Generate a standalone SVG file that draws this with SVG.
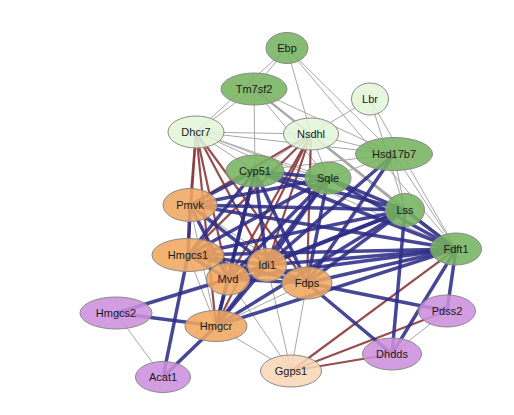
<svg xmlns="http://www.w3.org/2000/svg" width="514" height="415" viewBox="0 0 514 415">
<style>
.g{stroke:#a8a8a8;stroke-width:1;fill:none}
.r{stroke:#8a3a3a;stroke-width:2.2;fill:none;stroke-opacity:0.9}
.b{stroke:#2d2d88;stroke-width:3.5;fill:none;stroke-opacity:0.88}
ellipse{stroke:#8a8a8a;stroke-width:1;fill-opacity:0.88}
.dg{fill:#76b360}
.lg{fill:#e2f6da}
.or{fill:#f0a761}
.pu{fill:#cc8fdd}
.pe{fill:#f8d6b6}
text{font-family:"Liberation Sans",Arial,sans-serif;font-size:11px;fill:#1a1a1a;text-anchor:middle;dominant-baseline:central}
</style>
<rect width="514" height="415" fill="#ffffff"/>
<g id="edges">
<g id="gray">
<line class="g" x1="287" y1="48" x2="254" y2="89"/>
<line class="g" x1="287" y1="48" x2="311" y2="134"/>
<line class="g" x1="287" y1="48" x2="196" y2="132"/>
<line class="g" x1="287" y1="48" x2="394" y2="154"/>
<line class="g" x1="287" y1="48" x2="456" y2="249"/>
<line class="g" x1="254" y1="89" x2="196" y2="132"/>
<line class="g" x1="254" y1="89" x2="311" y2="134"/>
<line class="g" x1="254" y1="89" x2="255" y2="171"/>
<line class="g" x1="254" y1="89" x2="394" y2="154"/>
<line class="g" x1="254" y1="89" x2="328" y2="178"/>
<line class="g" x1="254" y1="89" x2="405" y2="210" style="stroke-width:2"/>
<line class="g" x1="254" y1="89" x2="456" y2="249" style="stroke-width:2"/>
<line class="g" x1="370" y1="99" x2="311" y2="134"/>
<line class="g" x1="370" y1="99" x2="405" y2="210"/>
<line class="g" x1="370" y1="99" x2="456" y2="249"/>
<line class="g" x1="196" y1="132" x2="311" y2="134"/>
<line class="g" x1="196" y1="132" x2="394" y2="154"/>
<line class="g" x1="196" y1="132" x2="255" y2="171"/>
<line class="g" x1="196" y1="132" x2="328" y2="178"/>
<line class="g" x1="196" y1="132" x2="405" y2="210"/>
<line class="g" x1="196" y1="132" x2="456" y2="249"/>
<line class="g" x1="311" y1="134" x2="394" y2="154"/>
<line class="g" x1="311" y1="134" x2="255" y2="171"/>
<line class="g" x1="311" y1="134" x2="328" y2="178"/>
<line class="g" x1="311" y1="134" x2="405" y2="210" style="stroke-width:2"/>
<line class="g" x1="311" y1="134" x2="456" y2="249"/>
<line class="g" x1="394" y1="154" x2="255" y2="171"/>
<line class="g" x1="394" y1="154" x2="328" y2="178"/>
<line class="g" x1="394" y1="154" x2="405" y2="210"/>
<line class="g" x1="394" y1="154" x2="456" y2="249"/>
<line class="g" x1="116" y1="313" x2="163" y2="377"/>
<line class="g" x1="216" y1="326" x2="291" y2="371"/>
<line class="g" x1="228" y1="279" x2="291" y2="371"/>
<line class="g" x1="267" y1="265" x2="291" y2="371"/>
<line class="g" x1="307" y1="283" x2="291" y2="371"/>
<line class="g" x1="216" y1="326" x2="307" y2="283"/>
<line class="g" x1="190" y1="205" x2="307" y2="283"/>
<line class="g" x1="190" y1="205" x2="216" y2="326"/>
<line class="g" x1="188" y1="255" x2="216" y2="326"/>
<line class="g" x1="392" y1="354" x2="447" y2="311"/>
</g>
<g id="red">
<line class="r" x1="196" y1="132" x2="190" y2="205"/>
<line class="r" x1="196" y1="132" x2="188" y2="255"/>
<line class="r" x1="196" y1="132" x2="228" y2="279"/>
<line class="r" x1="196" y1="132" x2="267" y2="265"/>
<line class="r" x1="196" y1="132" x2="307" y2="283"/>
<line class="r" x1="196" y1="132" x2="216" y2="326"/>
<line class="r" x1="311" y1="134" x2="190" y2="205"/>
<line class="r" x1="311" y1="134" x2="188" y2="255"/>
<line class="r" x1="311" y1="134" x2="228" y2="279"/>
<line class="r" x1="311" y1="134" x2="267" y2="265"/>
<line class="r" x1="311" y1="134" x2="307" y2="283"/>
<line class="r" x1="311" y1="134" x2="216" y2="326"/>
<line class="r" x1="456" y1="249" x2="291" y2="371"/>
<line class="r" x1="447" y1="311" x2="291" y2="371"/>
<line class="r" x1="392" y1="354" x2="291" y2="371"/>
</g>
<g id="blue">
<line class="b" x1="190" y1="205" x2="188" y2="255"/>
<line class="b" x1="190" y1="205" x2="228" y2="279"/>
<line class="b" x1="190" y1="205" x2="267" y2="265"/>
<line class="b" x1="188" y1="255" x2="228" y2="279"/>
<line class="b" x1="188" y1="255" x2="267" y2="265"/>
<line class="b" x1="188" y1="255" x2="307" y2="283"/>
<line class="b" x1="228" y1="279" x2="267" y2="265"/>
<line class="b" x1="228" y1="279" x2="307" y2="283"/>
<line class="b" x1="228" y1="279" x2="216" y2="326"/>
<line class="b" x1="267" y1="265" x2="307" y2="283"/>
<line class="b" x1="267" y1="265" x2="216" y2="326"/>
<line class="b" x1="190" y1="205" x2="255" y2="171"/>
<line class="b" x1="190" y1="205" x2="328" y2="178"/>
<line class="b" x1="190" y1="205" x2="405" y2="210"/>
<line class="b" x1="190" y1="205" x2="456" y2="249"/>
<line class="b" x1="188" y1="255" x2="255" y2="171"/>
<line class="b" x1="188" y1="255" x2="328" y2="178"/>
<line class="b" x1="188" y1="255" x2="405" y2="210"/>
<line class="b" x1="188" y1="255" x2="456" y2="249"/>
<line class="b" x1="228" y1="279" x2="255" y2="171"/>
<line class="b" x1="228" y1="279" x2="328" y2="178"/>
<line class="b" x1="228" y1="279" x2="405" y2="210"/>
<line class="b" x1="228" y1="279" x2="456" y2="249"/>
<line class="b" x1="267" y1="265" x2="255" y2="171"/>
<line class="b" x1="267" y1="265" x2="328" y2="178"/>
<line class="b" x1="267" y1="265" x2="405" y2="210"/>
<line class="b" x1="267" y1="265" x2="456" y2="249"/>
<line class="b" x1="307" y1="283" x2="255" y2="171"/>
<line class="b" x1="307" y1="283" x2="328" y2="178"/>
<line class="b" x1="307" y1="283" x2="405" y2="210"/>
<line class="b" x1="307" y1="283" x2="456" y2="249"/>
<line class="b" x1="216" y1="326" x2="255" y2="171"/>
<line class="b" x1="216" y1="326" x2="328" y2="178"/>
<line class="b" x1="216" y1="326" x2="405" y2="210"/>
<line class="b" x1="216" y1="326" x2="456" y2="249"/>
<line class="b" x1="255" y1="171" x2="328" y2="178"/>
<line class="b" x1="255" y1="171" x2="405" y2="210"/>
<line class="b" x1="255" y1="171" x2="456" y2="249"/>
<line class="b" x1="328" y1="178" x2="405" y2="210"/>
<line class="b" x1="328" y1="178" x2="456" y2="249"/>
<line class="b" x1="405" y1="210" x2="456" y2="249"/>
<line class="b" x1="394" y1="154" x2="267" y2="265"/>
<line class="b" x1="394" y1="154" x2="307" y2="283"/>
<line class="b" x1="116" y1="313" x2="228" y2="279"/>
<line class="b" x1="116" y1="313" x2="216" y2="326"/>
<line class="b" x1="163" y1="377" x2="216" y2="326"/>
<line class="b" x1="163" y1="377" x2="188" y2="255"/>
<line class="b" x1="456" y1="249" x2="447" y2="311"/>
<line class="b" x1="456" y1="249" x2="392" y2="354"/>
<line class="b" x1="405" y1="210" x2="392" y2="354"/>
<line class="b" x1="307" y1="283" x2="392" y2="354"/>
<line class="b" x1="307" y1="283" x2="447" y2="311"/>
</g>
</g>
<g id="Ebp"><ellipse class="dg" cx="287" cy="48" rx="21" ry="15.5"/><text x="287" y="48">Ebp</text></g>
<g id="Tm7sf2"><ellipse class="dg" cx="254" cy="89" rx="33" ry="16"/><text x="254" y="89">Tm7sf2</text></g>
<g id="Lbr"><ellipse class="lg" cx="370" cy="99" rx="18.5" ry="16"/><text x="370" y="99">Lbr</text></g>
<g id="Dhcr7"><ellipse class="lg" cx="196" cy="132" rx="28" ry="16"/><text x="196" y="132">Dhcr7</text></g>
<g id="Nsdhl"><ellipse class="lg" cx="311" cy="134" rx="27.5" ry="16"/><text x="311" y="134">Nsdhl</text></g>
<g id="Hsd17b7"><ellipse class="dg" cx="394" cy="154" rx="38.5" ry="16.5"/><text x="394" y="154">Hsd17b7</text></g>
<g id="Cyp51"><ellipse class="dg" cx="255" cy="171" rx="29" ry="16"/><text x="255" y="171">Cyp51</text></g>
<g id="Sqle"><ellipse class="dg" cx="328" cy="178" rx="23" ry="16"/><text x="328" y="178">Sqle</text></g>
<g id="Lss"><ellipse class="dg" cx="405" cy="210" rx="19.5" ry="16.5"/><text x="405" y="210">Lss</text></g>
<g id="Fdft1"><ellipse class="dg" cx="456" cy="249" rx="25.5" ry="16"/><text x="456" y="249">Fdft1</text></g>
<g id="Pmvk"><ellipse class="or" cx="190" cy="205" rx="27" ry="16.5"/><text x="190" y="205">Pmvk</text></g>
<g id="Hmgcs1"><ellipse class="or" cx="188" cy="255" rx="36" ry="16.5"/><text x="188" y="255">Hmgcs1</text></g>
<g id="Idi1"><ellipse class="or" cx="267" cy="265" rx="19.5" ry="16.5"/><text x="267" y="265">Idi1</text></g>
<g id="Mvd"><ellipse class="or" cx="228" cy="279" rx="21.5" ry="16"/><text x="228" y="279">Mvd</text></g>
<g id="Fdps"><ellipse class="or" cx="307" cy="283" rx="25" ry="16"/><text x="307" y="283">Fdps</text></g>
<g id="Hmgcs2"><ellipse class="pu" cx="116" cy="313" rx="36" ry="16"/><text x="116" y="313">Hmgcs2</text></g>
<g id="Hmgcr"><ellipse class="or" cx="216" cy="326" rx="31" ry="15.5"/><text x="216" y="326">Hmgcr</text></g>
<g id="Pdss2"><ellipse class="pu" cx="447" cy="311" rx="28.5" ry="16"/><text x="447" y="311">Pdss2</text></g>
<g id="Dhdds"><ellipse class="pu" cx="392" cy="354" rx="29.5" ry="16"/><text x="392" y="354">Dhdds</text></g>
<g id="Ggps1"><ellipse class="pe" cx="291" cy="371" rx="30.5" ry="16"/><text x="291" y="371">Ggps1</text></g>
<g id="Acat1"><ellipse class="pu" cx="163" cy="377" rx="27.5" ry="15.5"/><text x="163" y="377">Acat1</text></g>
</svg>
